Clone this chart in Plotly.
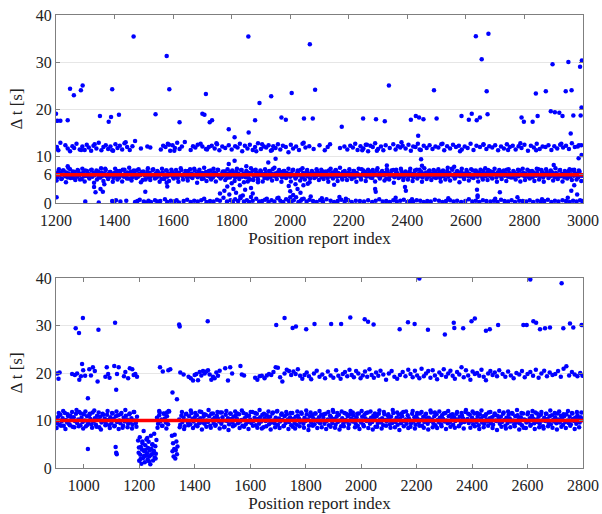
import numpy as np
import plotly.graph_objects as go

# ---------------- TOP PANEL DATA ----------------
top_x_range = [1200, 3000]
top_level = 6
top_band_start, top_band_step = 1200, 4
top_band_y = [
6.2,5.5,6.7,5.9,6.4,5.2,6.9,6.0,5.7,6.5,5.4,6.3,7.2,5.8,6.1,5.3,6.6,6.0,5.6,6.8,5.9,6.2,5.1,6.4,5.7,
6.9,5.8,6.3,5.5,6.1,7.0,5.6,6.4,5.9,6.2,5.0,6.7,6.0,5.4,6.5,5.8,6.3,7.3,5.7,6.1,5.5,6.6,5.9,6.2,5.3,
6.4,5.7,6.8,6.0,5.4,6.3,5.9,7.1,5.6,6.2,5.8,6.5,5.2,6.1,6.7,5.5,6.0,6.4,5.8,6.9,5.6,6.2,5.9,6.6,4.9,
6.3,5.8,6.1,6.8,5.5,6.4,5.7,6.0,7.2,5.9,6.3,5.4,6.6,5.8,6.2,5.1,6.5,6.0,5.7,6.9,5.6,6.3,5.9,6.1,6.7,
5.5,6.2,5.8,6.6,5.3,6.4,6.0,7.0,5.7,6.1,5.9,6.5,5.4,6.8,6.0,5.6,6.3,5.8,7.3,5.9,6.2,5.5,6.7,6.1,5.7,
6.4,5.2,6.0,6.6,5.8,6.3,5.6,6.9,6.1,5.4,6.5,5.9,6.2,7.1,5.7,6.0,5.5,6.4,5.8,6.7,6.1,5.3,6.3,5.9,6.6,
5.8,6.5,6.0,5.4,6.8,5.7,6.2,5.9,7.0,5.6,6.3,6.1,5.5,6.6,5.8,6.4,5.0,6.2,6.9,5.7,6.0,6.5,5.6,6.3,5.9,
6.7,5.9,6.1,5.3,6.4,6.0,5.7,6.8,5.5,6.2,7.2,5.8,6.3,5.6,6.5,6.0,5.9,6.6,5.4,6.1,6.8,5.7,6.4,5.9,6.2,
5.6,6.3,6.9,5.8,6.0,5.5,6.5,6.2,5.9,7.1,5.4,6.4,5.8,6.1,6.7,5.7,6.3,5.2,6.0,6.6,5.9,6.2,5.6,6.8,6.1,
5.9,6.4,5.5,6.7,6.0,5.8,6.3,5.3,6.9,6.1,5.7,6.5,5.9,6.2,7.0,5.6,6.4,5.8,6.1,5.4,6.6,6.0,5.7,6.3,5.9,
6.5,5.7,6.2,5.9,6.8,5.4,6.1,6.4,5.8,6.0,5.5,7.2,6.3,5.9,6.6,5.6,6.2,5.8,6.7,6.0,5.3,6.4,5.9,6.1,6.9,
5.8,6.3,5.6,6.6,6.0,5.9,6.4,5.2,6.7,6.1,5.7,6.3,5.9,7.0,5.5,6.2,6.5,5.8,6.0,5.6,6.8,6.1,5.4,6.4,5.9,
6.2,5.6,6.7,5.9,6.1,5.5,6.4,6.0,7.1,5.8,6.3,5.7,6.6,5.4,6.2,5.9,6.5,6.0,5.6,6.9,5.8,6.3,6.1,5.5,6.7,
6.0,5.8,6.4,5.3,6.6,6.1,5.7,6.2,5.9,6.8,5.6,6.4,6.0,7.3,5.8,6.1,5.5,6.5,5.9,6.2,5.7,6.7,6.0,5.4,6.3,
5.9,6.6,5.7,6.2,6.0,5.5,6.9,5.8,6.3,6.1,5.6,6.5,5.9,6.2,5.4,6.8,6.0,5.7,6.4,7.0,5.8,6.1,5.5,6.6,6.2,
6.1,5.4,6.5,5.9,6.3,5.7,6.7,6.0,5.8,6.2,7.1,5.6,6.4,5.9,6.1,5.5,6.6,6.0,5.8,6.3,5.7,6.9,6.1,5.9,6.4,
5.7,6.3,6.0,5.6,6.8,5.9,6.2,5.5,6.5,6.1,5.8,6.4,7.2,5.7,6.0,6.6,5.4,6.2,5.9,6.7,6.1,5.6,6.3,5.8,6.5,
6.0,5.5,6.4,6.1,5.8,6.9,5.7,6.2,6.0,5.4,6.6,5.9,6.3,6.8,5.6,6.1,7.0,5.8,6.4,5.9,6.2,5.5,6.7,6.0,5.8]
top_band2_start, top_band2_step = 1202, 8
top_band2_y = [
4.8,7.2,5.1,6.9,4.4,7.5,5.3,6.7,4.9,7.0,5.0,7.3,4.6,6.8,5.2,7.1,4.3,6.9,5.4,7.4,4.7,7.0,5.1,6.6,4.5,
7.3,5.0,6.8,4.6,7.1,5.2,7.5,4.8,6.9,5.3,7.2,4.4,6.7,5.0,7.4,4.9,7.0,5.2,6.8,4.5,7.3,5.1,6.9,4.7,7.1,
5.2,7.0,4.5,7.4,5.0,6.8,4.8,7.2,5.3,6.9,4.3,7.1,5.1,7.5,4.7,6.8,5.0,7.3,4.6,7.0,5.2,6.7,4.9,7.2,5.4,
6.9,4.7,7.3,5.1,7.0,4.4,6.8,5.3,7.4,4.9,7.1,5.0,6.9,4.6,7.2,5.2,6.7,4.8,7.5,5.1,7.0,4.5,6.8,5.3,7.3,
4.6,7.1,5.2,6.9,4.8,7.4,5.0,7.0,4.4,6.8,5.3,7.2,4.9,7.1,5.1,6.7,4.5,7.3,5.2,6.9,4.7,7.5,5.0,6.8,4.9,
7.2,5.1,6.8,4.5,7.3,5.0,6.9,4.7,7.1,5.4,7.0,4.6,7.4,5.2,6.8,4.8,7.2,5.0,6.9,4.3,7.1,5.3,7.3,4.9,6.7,
5.0,7.3,4.7,6.9,5.2,7.1,4.5,7.4,5.1,6.8,4.9,7.0,5.3,7.2,4.6,6.9,5.0,7.5,4.8,7.1,5.2,6.8,4.4,7.3,5.1,
7.0,4.8,7.2,5.3,6.9,4.6,7.1,5.0,7.4,4.9,6.8,5.2,7.3,4.5,7.0,5.1,6.9,4.7,7.2,5.4,6.8,5.0,7.1,4.6,7.3,
4.9,7.1,5.2,6.8,4.7,7.3,5.0,7.0,4.5,7.2,5.3,6.9,4.8,7.4,5.1,7.0,4.6,6.8,5.2,7.2,4.9,7.1,5.0,6.9,4.7]

top_l12_x = [1200,1203,1208,1232,1240,1248,1256,1262,1270,1281,1290,1298,1305,1312,1320,1328,1338,1346,1355,1362,
1370,1378,1386,1395,1403,1410,1418,1426,1434,1443,1452,1461,1470,1490,1512,1522,1558,1566,1574,1582,
1590,1598,1606,1614,1622,1630,1640,1660,1668,1676,1684,1700,1712,1722,1732,1742,1750,1758,1768,1778,
1790,1800,1812,1820,1828,1836,1845,1854,1862,1872,1880,1890,1900,1910,1918,1926,1934,1942,1950,1958,
1966,1975,1985,1994,2002,2010,2020,2030,2042,2052,2065,2080,2100,2118,2128,2136,2170,2185,2195,2205,
2214,2222,2230,2240,2250,2258,2266,2274,2282,2290,2300,2310,2318,2326,2340,2352,2360,2368,2376,2384,
2394,2404,2412,2420,2428,2436,2446,2456,2466,2476,2486,2496,2506,2516,2526,2536,2546,2556,2566,2576,
2586,2596,2606,2616,2626,2636,2648,2660,2670,2680,2690,2700,2710,2720,2730,2740,2750,2760,2770,2780,
2790,2800,2812,2822,2832,2842,2852,2862,2872,2882,2892,2902,2912,2922,2932,2942,2952,2962,2972,2982,2994,
1215,1286,1332,1392,1438,1586,1604,1694,1716,1748,1884,1904,1938,2046,2246,2262,2296,2380,2442,2520,2580,2660,2744,2786,2840,2926]
top_l12_y = [11.5,11.9,11.2,12.3,11.6,11.0,12.1,11.7,12.6,11.4,12.0,11.3,12.4,11.8,11.1,12.2,11.6,12.8,11.2,11.9,
12.3,11.5,12.0,11.1,12.5,11.7,12.2,11.4,12.7,11.9,11.3,12.1,13.2,11.6,12.0,11.8,11.4,12.2,11.9,12.6,
11.1,12.3,11.7,12.8,11.5,12.0,13.0,11.3,12.1,11.8,12.4,12.0,11.5,11.9,12.2,11.6,12.5,11.2,12.0,11.7,
12.3,11.4,12.1,11.8,12.6,11.0,12.2,11.6,12.4,11.3,11.9,12.7,11.5,12.0,11.8,12.3,11.1,12.1,11.7,12.5,
11.4,12.2,11.9,10.8,12.4,11.6,12.0,11.3,12.6,11.8,12.1,11.5,12.3,11.2,11.9,12.5,11.7,12.0,11.4,12.2,
11.8,12.6,11.3,12.1,11.6,12.4,11.0,12.2,11.9,12.7,11.5,12.0,11.2,12.3,11.7,12.5,11.4,12.1,11.8,12.2,
11.6,12.4,11.1,12.0,11.9,12.6,11.3,12.2,11.7,12.3,11.5,12.0,11.8,12.5,11.2,12.1,11.6,12.4,11.9,12.2,
11.4,12.0,11.7,12.6,11.3,12.2,11.9,12.4,11.5,12.1,11.8,12.3,11.2,12.0,11.6,12.5,11.9,12.2,11.4,12.1,
11.7,12.4,11.1,12.2,11.8,12.6,11.5,12.0,11.9,12.3,11.3,12.1,11.6,12.4,11.8,12.2,11.5,12.7,11.9,12.0,12.3,
12.8,11.3,12.5,11.2,12.9,12.4,11.1,12.6,11.4,12.7,11.0,12.5,11.3,12.8,11.2,12.4,11.1,12.9,11.4,12.6,11.0,12.5,11.3,12.7,11.2,12.6]

top_l0_x = [1202,1300,1346,1392,1398,1405,1420,1440,1470,1478,1486,1500,1508,1516,1524,1538,1546,1556,1572,1580,
1592,1604,1612,1620,1636,1648,1660,1672,1684,1696,1706,1714,1726,1738,1750,1760,1772,1784,1796,1804,
1812,1822,1830,1842,1852,1860,1872,1884,1894,1904,1914,1926,1936,1946,1956,1966,1976,1986,1996,2004,
2012,2020,2028,2036,2046,2056,2066,2078,2090,2102,2112,2124,2138,2150,2162,2174,2186,2198,2210,2224,
2238,2252,2266,2280,2292,2304,2316,2328,2340,2352,2364,2376,2388,2400,2410,2420,2432,2444,2456,2468,
2480,2494,2508,2520,2532,2546,2558,2570,2584,2598,2610,2622,2634,2646,2658,2670,2684,2696,2708,2720,
2732,2744,2756,2768,2782,2794,2806,2818,2830,2844,2856,2868,2880,2892,2904,2916,2930,2942,2954,2966,2978,2990,2998,
1830,1866,1920,1960,2000,2040,2070,2108,2168,2190,2360,2416,2540,2640,2700,2776,2860,2948]
top_l0_y = [1.2,0.3,0.1,0.4,0.2,0.6,0.3,0.5,0.2,0.4,0.7,0.3,0.1,0.5,0.2,0.6,0.3,0.4,0.8,0.2,
0.5,0.3,0.6,0.1,0.4,0.7,0.2,0.5,0.3,0.6,0.9,0.2,0.4,0.3,0.7,0.5,1.1,0.3,0.6,0.2,
0.8,0.4,1.0,0.3,0.6,0.2,0.5,0.9,0.3,0.4,0.7,0.2,0.6,0.3,1.0,0.5,0.2,0.8,0.4,0.3,
0.6,1.2,0.2,0.5,0.9,0.3,0.7,0.4,0.2,0.6,0.3,0.8,0.5,0.2,0.4,0.7,0.3,0.6,0.2,0.5,
0.4,0.3,0.6,0.2,0.5,0.8,0.3,0.4,0.2,0.6,0.3,0.5,0.7,0.2,0.4,0.3,0.6,0.5,0.2,0.4,
0.3,0.7,0.5,0.2,0.4,0.6,0.3,0.5,0.2,0.4,0.8,0.3,0.5,0.2,0.6,0.4,0.3,0.5,0.2,0.7,
0.4,0.3,0.6,0.2,0.5,0.4,0.3,0.6,0.2,0.5,0.3,0.4,0.7,0.2,0.5,0.3,0.6,0.4,0.2,0.5,0.3,0.6,0.4,
1.4,1.3,0.9,1.1,1.2,0.8,1.4,1.0,1.3,0.9,1.1,0.8,1.0,1.3,0.9,1.2,0.8,1.1]

top_mid_x = [1330,1335,1352,1360,1365,1505,1578,1580,1760,1775,1785,1792,1800,1806,1815,1828,1838,1846,1855,1866,
1872,1995,2000,2010,2018,2025,2035,2045,2290,2292,2392,2395,2638,2640,2716,2960,2970,2980,
1790,1810,1850,1925,1950,2447,2450,2985,2995,1240,2330,2560,2900,1890,2060,2150]
top_mid_y = [3.4,2.3,3.0,2.4,4.0,2.4,4.3,3.5,2.0,2.6,3.5,1.8,4.2,3.0,2.2,3.8,1.6,2.8,4.6,3.2,
2.0,3.6,2.5,1.7,4.0,3.0,2.2,3.8,3.0,2.4,3.4,2.6,2.8,1.6,2.3,2.6,3.8,1.8,
8.3,9.0,7.8,8.6,9.4,9.3,7.9,9.5,10.2,7.8,8.0,7.7,8.1,4.4,4.1,3.9]

top_out_x = [1200,1205,1215,1240,1248,1261,1285,1291,1350,1380,1388,1392,1415,1465,1540,1578,1587,1622,1700,1707,
1712,1725,1733,1790,1810,1857,1858,1880,1895,1935,1970,1985,2005,2067,2085,2047,2077,2176,2249,2293,
2323,2337,2412,2429,2440,2455,2437,2491,2500,2585,2610,2620,2637,2648,2634,2654,2677,2671,2674,2790,
2798,2828,2845,2839,2873,2890,2904,2919,2930,2896,2941,2961,2950,2958,2967,2990,2996,2995,2992,2986]
top_out_y = [19.0,17.5,17.5,17.6,24.3,22.9,24.0,25.0,18.5,17.3,18.3,24.2,18.8,35.4,18.9,31.3,24.2,17.2,19.0,18.8,
23.2,17.2,17.6,15.7,14.0,35.4,15.0,17.6,21.3,22.7,18.2,17.7,23.4,33.8,24.1,18.0,18.0,16.2,18.0,17.8,
17.4,25.0,17.7,18.5,18.2,17.8,14.3,24.0,18.0,18.5,17.7,19.0,17.6,18.2,35.5,30.6,36.0,23.8,18.9,18.2,
17.3,17.3,18.5,23.3,23.8,19.5,19.3,19.2,18.5,29.5,23.8,24.0,30.0,14.8,18.6,29.0,30.3,20.3,18.6,12.3]

# ---------------- BOTTOM PANEL DATA ----------------
bot_x_range = [900, 2800]
bot_level = 10
bot_seg1_start, bot_seg2_start, bot_seg3_start, bot_step = 900, 1264, 1344, 4
bot_seg1_y = [
10.3,9.4,10.8,9.1,11.2,9.8,10.5,8.9,11.6,10.1,9.6,10.9,9.2,11.0,10.4,8.7,10.7,9.9,11.4,9.5,10.2,11.8,9.0,10.6,9.7,
11.3,10.0,8.8,10.9,9.4,11.1,10.3,9.2,11.7,9.8,10.5,9.1,11.0,10.2,8.6,10.8,9.6,11.4,9.9,10.4,9.3,11.2,10.1,9.0,10.7,
9.5,11.5,10.3,8.9,10.9,9.7,11.1,10.0,9.4,11.6,8.5,10.6,9.8,11.0,10.2,9.3,11.3,9.6,10.5,9.1,11.8,10.0,9.5,10.8]
bot_seg2_y = [10.6,9.3,11.1,9.8,10.2,8.9,11.5,10.4,9.6,10.9,9.2,11.9]
bot_seg3_y = [
10.2,9.1,11.0,9.7,10.6,8.8,11.3,10.0,9.5,10.9,9.2,11.6,10.3,9.8,10.7,9.0,11.1,10.1,9.4,10.5,11.8,9.6,10.8,9.3,11.2,10.0,
9.7,10.9,8.9,11.4,10.2,9.5,10.6,9.1,11.0,10.4,9.8,11.7,9.3,10.7,10.0,8.7,11.2,9.9,10.5,9.2,11.5,10.3,9.6,10.8,9.0,11.1,
10.4,9.4,11.3,9.8,10.1,8.9,11.6,10.5,9.2,10.9,9.7,11.0,10.2,9.5,11.8,9.9,10.6,9.0,11.4,10.3,9.3,10.7,9.8,11.2,8.6,10.5,
9.9,11.1,10.3,9.2,10.8,9.6,11.5,10.0,9.4,10.6,11.9,9.1,10.4,9.8,11.2,10.1,8.8,10.9,9.5,11.3,10.2,9.7,10.7,9.0,11.6,10.3,
9.5,10.8,9.1,11.0,10.4,9.7,11.7,10.0,9.3,10.6,9.9,11.3,10.2,8.9,10.9,9.6,11.1,10.5,9.2,11.5,10.1,9.8,10.7,9.4,11.2,10.0,
10.6,9.3,11.4,9.9,10.2,9.0,11.0,10.7,9.5,11.8,10.3,9.1,10.8,9.7,11.2,10.0,8.8,10.5,9.4,11.6,10.1,9.8,10.9,9.2,11.3,10.4,
9.8,11.1,10.2,9.4,10.7,8.9,11.5,10.0,9.6,10.8,9.1,11.2,10.4,9.9,11.7,10.1,9.3,10.6,9.7,11.0,10.3,8.7,10.9,9.5,11.4,10.2,
9.6,10.5,9.0,11.3,10.1,9.8,11.0,10.4,9.2,10.8,9.5,11.6,10.0,9.7,10.6,9.1,11.2,10.3,9.4,10.9,11.8,9.9,10.2,9.3,11.1,10.5,
10.0,9.4,11.4,9.8,10.7,9.1,11.0,10.3,9.6,11.5,10.1,8.9,10.8,9.7,11.2,10.4,9.3,10.6,9.9,11.7,10.2,9.5,10.9,9.0,11.3,10.1,
9.7,10.6,9.2,11.1,10.3,9.8,11.6,10.0,9.4,10.9,9.6,11.2,10.5,9.1,10.7,9.9,11.4,10.2,8.8,10.8,9.5,11.0,10.4,9.7,11.8,10.0,
10.3,9.5,11.2,9.9,10.6,9.2,11.5,10.1,9.7,10.8,9.0,11.3,10.4,9.6,10.9,9.3,11.0,10.2,9.8,11.7,10.5,9.4,10.7,9.1,11.1,10.0,
9.9,11.0,10.3,9.3,10.8,9.7,11.4,10.1,8.9,10.6,9.5,11.2,10.4,9.8,11.6,10.0,9.2,10.9,9.6,11.1,10.3,9.4,10.7,9.0,11.5,10.2,
10.1,9.6,11.3,9.8,10.5,9.1,11.0,10.4,9.4,11.7,10.2,9.7,10.8,9.3,11.2,10.0,8.8,10.6,9.9,11.4,10.3,9.5,10.9,9.2,11.1,10.1,
9.8,10.7,9.4,11.5,10.2,9.6,11.0,10.5,9.1,10.9,9.7,11.3,10.0,9.5,10.8,9.2,11.6,10.3,9.9,10.6,9.3,11.1,10.4,9.6,10.7,10.1]
bot_seg1b_start, bot_seg2b_start, bot_seg3b_start, bot_step_b = 902, 1266, 1346, 8
bot_seg1b_y = [8.4,11.6,8.9,12.0,8.2,11.3,9.0,11.8,8.6,12.2,8.8,11.5,8.3,11.9,9.1,11.4,8.5,12.1,8.7,11.7,
8.1,11.2,9.0,12.0,8.4,11.6,8.8,11.9,8.2,11.3,8.9,12.2,8.6,11.5,8.3,11.8,8.7]
bot_seg2b_y = [8.5,11.7,8.9,11.4,8.3,12.0]
bot_seg3b_y = [
8.6,11.8,8.2,11.4,9.0,12.1,8.4,11.6,8.8,11.9,8.1,11.3,8.7,12.2,8.5,11.5,8.9,11.8,8.3,11.7,8.6,12.0,8.0,11.4,8.8,11.9,
11.5,8.4,12.1,8.7,11.3,8.2,11.8,8.9,11.6,8.5,12.2,8.3,11.4,8.8,11.9,8.1,11.7,8.6,12.0,8.4,11.5,8.9,11.8,8.2,11.6,8.7,
8.3,11.9,8.8,11.4,8.5,12.1,8.0,11.7,8.9,11.5,8.4,12.0,8.6,11.3,8.2,11.8,8.7,12.2,8.5,11.6,8.1,11.9,8.8,11.4,8.4,12.0,
11.7,8.6,11.4,8.2,12.0,8.8,11.6,8.4,11.9,8.1,11.5,8.7,12.1,8.3,11.8,8.9,11.3,8.5,12.2,8.6,11.7,8.0,11.5,8.8,11.9,8.4,
8.7,12.0,8.3,11.6,8.9,11.8,8.5,11.4,8.1,12.1,8.6,11.7,8.4,11.9,8.8,11.5,8.2,12.0,8.7,11.3,8.5,11.8,8.9,11.6,8.3,12.2,
11.4,8.5,11.9,8.8,11.6,8.2,12.1,8.6,11.3,8.9,11.8,8.4,11.5,8.0,12.0,8.7,11.7,8.3,11.9,8.6,11.4,8.8,12.2,8.1,11.6,8.5,
8.4,11.7,8.9,12.0,8.2,11.5,8.6,11.8,8.3,11.4,8.8,12.1,8.5,11.6,8.1,11.9,8.7,11.3,8.4,12.0,8.9,11.5,8.2,11.8,8.6,11.7]

bot_low_x = [1196,1198,1200,1202,1204,1206,1208,1210,1212,1214,1216,1218,1220,1222,1224,1226,1228,1230,1232,1234,
1236,1238,1240,1242,1244,1246,1248,1250,1252,1254,1256,1258,1260,1262,1199,1205,1211,1217,1223,1229,
1235,1241,1247,1253,1259,1318,1320,1322,1324,1326,1328,1330,1332,1334,1336,1338,
1015,1115,1117,1119,1015,1117,1320,1336,1272,1300]
bot_low_y = [5.8,3.2,1.5,6.5,2.8,4.4,0.9,3.9,5.2,2.1,7.8,3.5,1.2,4.8,2.6,6.0,3.1,1.8,4.2,5.5,
2.4,3.7,0.8,6.8,4.0,2.9,5.0,1.6,3.4,7.2,2.2,4.6,3.0,5.9,4.3,1.9,5.6,2.5,3.8,6.3,
1.4,2.7,4.9,3.6,2.0,6.8,3.5,5.2,2.4,4.0,7.0,2.0,3.8,5.6,2.9,4.5,
4.0,4.4,3.2,2.9,14.7,16.5,15.9,14.5,12.0,11.7]

bot_l20_x = [905,909,913,958,968,976,984,990,994,998,1005,1020,1026,1033,1040,1050,1078,1083,1088,1093,
1110,1120,1126,1145,1150,1160,1166,1175,1180,1186,1192,1275,1285,1305,1312,1348,1360,1378,1386,1394,
1400,1406,1412,1418,1424,1430,1436,1442,1448,1454,1460,1466,1472,1478,1484,1490,1510,1520,1528,1535,
1565,1570,1578,1618,1626,1634,1642,1652,1660,1668,1676,1684,1692,1700,1708,1716,1724,1732,1740,1748,
1756,1764,1772,1780,1788,1796,1804,1812,1820,1830,1840,1850,1860,1870,1880,1890,1900,1910,1918,1926,
1934,1942,1950,1958,1966,1974,1982,1990,1998,2006,2014,2022,2030,2038,2046,2054,2062,2070,2080,2090,
2100,2110,2120,2130,2140,2150,2160,2170,2178,2186,2194,2202,2210,2218,2226,2234,2242,2250,2258,2266,
2274,2282,2290,2298,2306,2314,2322,2330,2338,2346,2354,2362,2370,2378,2386,2394,2402,2410,2418,2426,
2434,2442,2450,2458,2466,2474,2482,2490,2498,2510,2520,2530,2540,2550,2560,2570,2580,2590,2600,2610,
2620,2630,2640,2650,2660,2670,2680,2690,2700,2710,2720,2730,2740,2750,2760,2770,2780,2790,2798]
bot_l20_y = [19.9,18.8,20.1,19.8,19.6,19.9,18.6,19.3,21.9,20.6,19.4,20.8,19.5,21.2,20.4,18.2,19.2,21.2,19.8,19.0,
21.5,19.8,21.2,19.3,20.2,18.9,21.0,20.8,19.6,19.8,19.2,21.2,20.3,20.6,20.8,20.1,19.7,19.2,18.9,18.4,
19.6,19.8,18.5,20.2,19.5,20.4,19.9,20.3,20.6,19.7,18.6,19.2,18.9,20.1,19.4,20.5,21.0,18.4,21.2,19.9,
21.5,19.7,19.5,19.0,18.6,19.3,19.4,18.9,19.5,19.8,19.6,20.2,21.2,21.1,19.1,18.2,19.9,20.7,20.4,19.6,
20.3,19.8,20.8,19.4,18.8,19.6,20.1,19.3,18.7,19.9,20.5,19.2,19.7,18.9,20.3,19.5,19.0,20.6,19.4,18.8,
19.8,20.2,19.3,20.7,19.6,19.1,20.4,19.9,18.9,19.5,20.3,19.2,20.8,19.6,19.0,20.1,19.4,20.5,19.7,18.6,
19.9,20.4,19.2,18.8,19.6,20.2,19.3,20.7,19.8,19.1,20.5,19.5,18.9,20.9,19.3,19.9,20.4,19.0,20.6,19.5,
18.7,20.1,19.6,20.8,19.2,19.9,20.5,19.4,18.8,20.2,19.7,21.2,19.1,20.6,19.5,18.6,20.3,19.8,20.0,19.4,
20.7,19.2,18.5,19.9,20.4,19.6,20.1,19.3,20.6,19.8,19.2,20.3,19.5,18.9,20.0,19.7,20.4,19.1,19.8,20.2,
19.4,20.7,19.0,19.9,20.5,19.3,20.1,19.6,19.8,20.4,19.2,20.9,21.4,19.5,20.2,19.7,19.3,20.0,19.4]

bot_out_x = [971,983,997,1053,1113,1344,1346,1447,1694,1724,1753,1765,1802,1832,1892,1928,1961,2013,2025,2045,
2139,2169,2193,2241,2210,2302,2334,2336,2368,2398,2410,2450,2464,2494,2585,2597,2621,2631,2610,2645,
2663,2681,2723,2729,2753,2765,2795]
bot_out_y = [29.4,28.4,31.6,29.1,30.6,30.2,29.8,30.9,30.1,31.6,29.5,29.8,29.2,30.3,30.3,30.3,31.7,31.3,30.8,30.2,
29.2,30.7,30.3,29.1,39.9,28.1,30.6,29.5,29.4,30.9,31.5,28.9,29.2,30.1,30.1,30.1,30.9,30.6,39.7,29.2,
29.4,29.6,38.9,29.4,30.4,29.6,30.1]


def pairs(xs, ys):
    n = min(len(xs), len(ys))
    return list(xs[:n]), list(ys[:n])


def band_x(start, step, ys):
    return list(np.arange(start, start + step * len(ys), step))


tx, ty = [], []
for st, sp, ys in [(top_band_start, top_band_step, top_band_y), (top_band2_start, top_band2_step, top_band2_y)]:
    tx += band_x(st, sp, ys); ty += ys
for xs, ys in [(top_l12_x, top_l12_y), (top_l0_x, top_l0_y), (top_mid_x, top_mid_y), (top_out_x, top_out_y)]:
    a, b = pairs(xs, ys); tx += a; ty += b

bx, by = [], []
for st, sp, ys in [(bot_seg1_start, bot_step, bot_seg1_y), (bot_seg2_start, bot_step, bot_seg2_y),
                   (bot_seg3_start, bot_step, bot_seg3_y), (bot_seg1b_start, bot_step_b, bot_seg1b_y),
                   (bot_seg2b_start, bot_step_b, bot_seg2b_y), (bot_seg3b_start, bot_step_b, bot_seg3b_y)]:
    bx += band_x(st, sp, ys); by += ys
for xs, ys in [(bot_low_x, bot_low_y), (bot_l20_x, bot_l20_y), (bot_out_x, bot_out_y)]:
    a, b = pairs(xs, ys); bx += a; by += b

BLUE = "#0000ff"
RED = "#ff0000"
FONT = "'Liberation Serif', 'Times New Roman', serif"

fig = go.Figure()
mk = dict(color=BLUE, size=4.5, line=dict(width=0))
fig.add_trace(go.Scatter(x=tx, y=ty, mode="markers", marker=mk, xaxis="x", yaxis="y", showlegend=False))
fig.add_trace(go.Scatter(x=top_x_range, y=[top_level, top_level], mode="lines",
                         line=dict(color=RED, width=3.5), xaxis="x", yaxis="y", showlegend=False))
fig.add_trace(go.Scatter(x=bx, y=by, mode="markers", marker=mk, xaxis="x2", yaxis="y2", showlegend=False))
fig.add_trace(go.Scatter(x=bot_x_range, y=[bot_level, bot_level], mode="lines",
                         line=dict(color=RED, width=3.5), xaxis="x2", yaxis="y2", showlegend=False))

ax_common = dict(showline=True, linecolor="#7f7f7f", linewidth=1, mirror="ticks", ticks="inside",
                 ticklen=4, tickcolor="#7f7f7f", zeroline=False, automargin=False,
                 tickfont=dict(family=FONT, size=16, color="#222"))
xax = dict(ax_common, showgrid=False, ticklabelstandoff=3)
yax = dict(ax_common, showgrid=True, gridcolor="#e6e6e6")
title_font = dict(family=FONT, size=17, color="#222")

fig.update_layout(
    width=602, height=514,
    margin=dict(l=56, r=19, t=15, b=46),
    plot_bgcolor="white", paper_bgcolor="white",
    font=dict(family=FONT, size=16, color="#222"),
    xaxis=dict(xax, domain=[0, 1], anchor="y", range=top_x_range,
               tickvals=list(range(1200, 3001, 200)),
               title=dict(text="Position report index", standoff=1, font=title_font)),
    yaxis=dict(yax, domain=[0.585, 1.0], anchor="x", range=[0, 40],
               tickvals=[0, 6, 10, 20, 30, 40],
               title=dict(text="Δ t [s]", standoff=8, font=title_font)),
    xaxis2=dict(xax, domain=[0, 1], anchor="y2", range=bot_x_range,
                tickvals=list(range(1000, 2801, 200)),
                title=dict(text="Position report index", standoff=3, font=title_font)),
    yaxis2=dict(yax, domain=[0, 0.4194], anchor="x2", range=[0, 40],
                tickvals=[0, 10, 20, 30, 40],
                title=dict(text="Δ t [s]", standoff=8, font=title_font)),
)

fig.write_html("out.html")
